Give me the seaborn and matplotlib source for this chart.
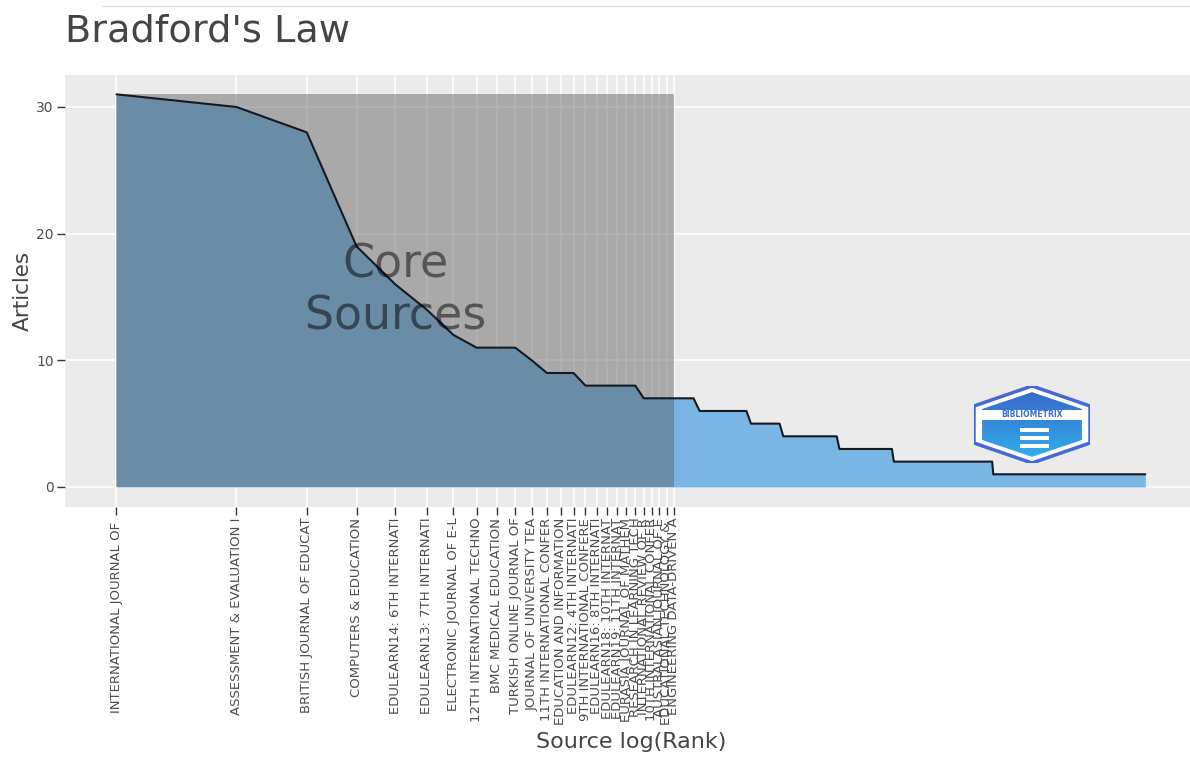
import numpy as np
import pandas as pd
import matplotlib
matplotlib.use('Agg')
import matplotlib.pyplot as plt
from matplotlib.patches import Polygon, Rectangle
from matplotlib.lines import Line2D
import seaborn as sns

# core sources (labels cut to 25 chars like bibliometrix does)
CORE_SOURCES = ['INTERNATIONAL JOURNAL OF ', 'ASSESSMENT & EVALUATION I', 'BRITISH JOURNAL OF EDUCAT',
                'COMPUTERS & EDUCATION', 'EDULEARN14: 6TH INTERNATI', 'EDULEARN13: 7TH INTERNATI',
                'ELECTRONIC JOURNAL OF E-L', '12TH INTERNATIONAL TECHNO', 'BMC MEDICAL EDUCATION',
                'TURKISH ONLINE JOURNAL OF', 'JOURNAL OF UNIVERSITY TEA', '11TH INTERNATIONAL CONFER',
                'EDUCATION AND INFORMATION', 'EDULEARN12: 4TH INTERNATI', '9TH INTERNATIONAL CONFERE',
                'EDULEARN16: 8TH INTERNATI', 'EDULEARN18: 10TH INTERNAT', 'EDULEARN19: 11TH INTERNAT',
                'EURASIA JOURNAL OF MATHEM', 'RESEARCH IN LEARNING TECH', 'INTERNATIONAL REVIEW OF R',
                '10TH INTERNATIONAL CONFER', 'AUSTRALASIAN JOURNAL OF E', 'EDUCATIONAL TECHNOLOGY & ',
                'ENGINEERING DATA-DRIVEN A']
CORE_ARTICLES = [31, 30, 28, 19, 16, 14, 12, 11, 11, 11, 10, 9, 9, 9, 8, 8, 8, 8, 8, 8, 7, 7, 7, 7, 7]

# the other sources, as steps: articles per source and how many sources have it
TAIL_ARTICLES = [7, 6, 5, 4, 3, 2, 1]
TAIL_SOURCE_COUNTS = [3, 10, 8, 18, 24, 69, 223]

W, H = 1190, 758

freq = list(CORE_ARTICLES) + list(np.repeat(TAIL_ARTICLES, TAIL_SOURCE_COUNTS))
df = pd.DataFrame({'Rank': np.arange(1, len(freq) + 1), 'Freq': freq})
df['log_rank'] = np.log(df['Rank'])
n_core = len(CORE_SOURCES)

sns.set_theme(style='darkgrid', rc={'axes.facecolor': '#EBEBEB', 'grid.color': 'white',
                                    'grid.linewidth': 1.1})
plt.rcParams['font.family'] = ['DejaVu Sans']

fig = plt.figure(figsize=(W / 100, H / 100), dpi=100)
fig.patch.set_facecolor('white')
ax = fig.add_axes([65 / W, 1 - 506.6 / H, 1131.7 / W, 431.9 / H])
ax.set_axisbelow(True)

ax.fill_between(df['log_rank'], df['Freq'], color='#7AB6E3', lw=0, zorder=2)
ymax = df['Freq'].max()
ax.add_patch(Rectangle((0, 0), np.log(n_core), ymax, facecolor='#5a5a5a', alpha=0.45, lw=0, zorder=3))
sns.lineplot(data=df, x='log_rank', y='Freq', color='#151a20', lw=1.5, ax=ax, zorder=4)
ax.text(np.log(n_core) / 2, ymax / 2, 'Core\nSources', ha='center', va='center', fontsize=33,
        color='black', alpha=0.5, linespacing=1.2, zorder=5)

span = df['log_rank'].max()
ax.set_xlim(-0.05 * span, span * 1.05)
ax.set_ylim(-0.05 * ymax, ymax * 1.05)
ax.set_xticks(df['log_rank'][:n_core])
ax.set_xticklabels(CORE_SOURCES, rotation=90, fontsize=9.5, color='#4D4D4D')
ax.set_yticks([0, 10, 20, 30])
ax.tick_params(axis='y', labelsize=10, labelcolor='#4D4D4D')
ax.tick_params(length=6, width=1, color='#333333', pad=2, bottom=True, left=True)
for s in ax.spines.values():
    s.set_visible(False)

ax.set_xlabel('Source log(Rank)', fontsize=16, color='#444444')
ax.xaxis.set_label_coords(0.5, -0.522)
ax.set_ylabel('Articles', fontsize=15.5, color='#444444')
ax.yaxis.set_label_coords(-0.028, 0.5)

fig.text(65 / W, 1 - 42 / H, "Bradford's Law", fontsize=27.5, color='#444444', ha='left', va='baseline')
fig.add_artist(Line2D([102 / W, 1], [1 - 6 / H] * 2, color='#e0e0e0', lw=1))

# bibliometrix logo, roughly
lax = fig.add_axes([974 / W, 1 - 463 / H, 116 / W, 77 / H])
lax.set_xlim(0, 1)
lax.set_ylim(0, 1)
lax.axis('off')
hexagon = [(0.5, 1), (1, 0.74), (1, 0.26), (0.5, 0), (0, 0.26), (0, 0.74)]
lax.add_patch(Polygon(hexagon, closed=True, facecolor='white', edgecolor='#4468d4', lw=2.5, zorder=1))
inner = [(0.5 + (x - 0.5) * 0.86, 0.5 + (y - 0.5) * 0.84) for x, y in hexagon]
clip = Polygon(inner, closed=True, facecolor='none', edgecolor='none', transform=lax.transData)
grad = np.linspace(0, 1, 64).reshape(-1, 1)
img = lax.imshow(grad, extent=[0, 1, 0, 1], origin='lower', aspect='auto', zorder=2,
                 cmap=matplotlib.colors.LinearSegmentedColormap.from_list('logo', ['#2fb4f0', '#3a62c6']))
img.set_clip_path(clip)
lax.set_xlim(0, 1)
lax.set_ylim(0, 1)
lax.add_patch(Rectangle((0.07, 0.56), 0.86, 0.13, facecolor='white', lw=0, zorder=3))
lax.text(0.5, 0.625, 'BIBLIOMETRIX', ha='center', va='center', fontsize=5.5, color='#3a70d0',
         fontweight='bold', zorder=4)
for yy in [0.2, 0.3, 0.4]:
    lax.add_patch(Rectangle((0.4, yy), 0.25, 0.05, facecolor='white', lw=0, zorder=4))

fig.savefig('out.png', dpi=100)
